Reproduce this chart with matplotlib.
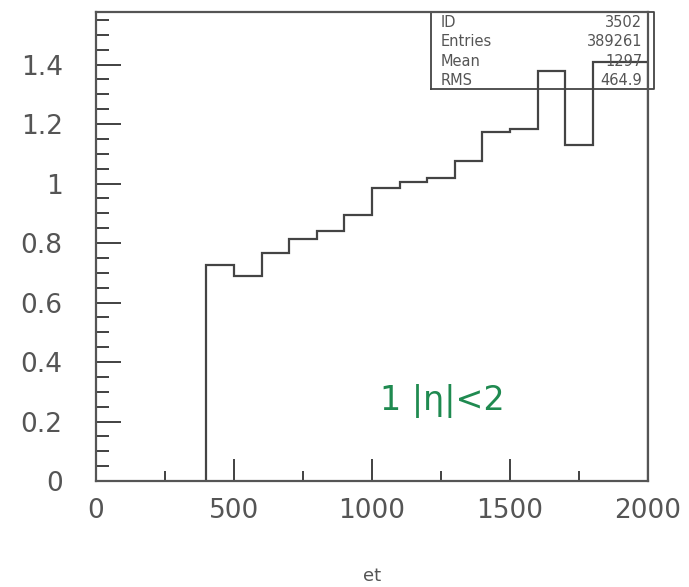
import numpy as np
import matplotlib
matplotlib.use('Agg')
import matplotlib.pyplot as plt
from matplotlib.ticker import MultipleLocator

# bin edges (et) and bin contents
binEdges = [400, 500, 600, 700, 800, 900, 1000, 1100, 1200, 1300,
            1400, 1500, 1600, 1700, 1800, 1900, 2000]
binValues = [0.726, 0.689, 0.766, 0.813, 0.840, 0.894, 0.985, 1.005,
             1.018, 1.076, 1.173, 1.183, 1.378, 1.129, 1.41, 1.41]

statNames = ['ID', 'Entries', 'Mean', 'RMS']
statValues = ['3502', '389261', '1297', '464.9']

xTicks = [0, 500, 1000, 1500, 2000]
yTicks = [0, 0.2, 0.4, 0.6, 0.8, 1, 1.2, 1.4]
yTickLabels = ['0', '0.2', '0.4', '0.6', '0.8', '1', '1.2', '1.4']

fig = plt.figure(figsize=(6.89, 5.87), dpi=100)
ax = fig.add_axes([0.1393, 0.1806, 0.8012, 0.7990])

ax.stairs(binValues, binEdges, baseline=0, color='#444444', linewidth=1.6)

ax.set_xlim(0, 2000)
ax.set_ylim(0, 1.577)
ax.set_xticks(xTicks)
ax.set_xticklabels([str(t) for t in xTicks])
ax.set_yticks(yTicks)
ax.set_yticklabels(yTickLabels)
ax.xaxis.set_minor_locator(MultipleLocator(250))
ax.yaxis.set_minor_locator(MultipleLocator(0.05))

ax.tick_params(axis='both', which='both', direction='in', color='#333333',
               width=1.3, labelcolor='#555555', labelsize=19)
ax.tick_params(axis='x', which='major', length=16, pad=12, top=False)
ax.tick_params(axis='x', which='minor', length=7, top=False)
ax.tick_params(axis='y', which='major', length=18, pad=24, right=False)
ax.tick_params(axis='y', which='minor', length=9, right=False)

for side in ['left', 'bottom', 'top', 'right']:
    ax.spines[side].set_color('#555555')
    ax.spines[side].set_linewidth(1.6)

ax.set_xlabel('et', fontsize=13, color='#555555')
ax.xaxis.set_label_coords(0.5, -0.183)

# stats box
boxX0, boxX1 = 1215, 2020
boxY0, boxY1 = 1.318, 1.577
ax.plot([boxX0, boxX1, boxX1, boxX0, boxX0], [boxY0, boxY0, boxY1, boxY1, boxY0],
        color='#444444', linewidth=1.3, clip_on=False)
for i in range(len(statNames)):
    yRow = 1.543 - i * 0.066
    ax.text(1250, yRow, statNames[i], fontsize=10.5, color='#555555', va='center')
    ax.text(1980, yRow, statValues[i], fontsize=10.5, color='#555555', va='center', ha='right')

# handwritten note
ax.text(1255, 0.27, '1 |η|<2', fontsize=24, color='#1f8a50', ha='center', va='center')

fig.savefig('out.png', dpi=100)
